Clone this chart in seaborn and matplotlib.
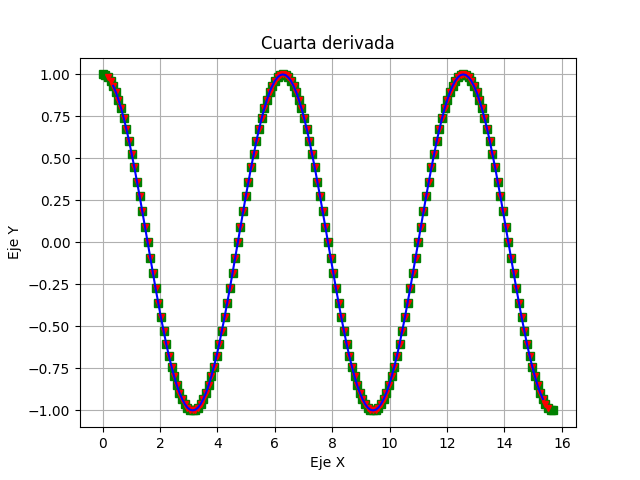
import matplotlib
matplotlib.use("Agg")
import matplotlib.pyplot as plt
import seaborn as sns

x = [0.0, 0.0924, 0.1848, 0.2772, 0.3696, 0.462, 0.5544, 0.6468, 0.7392, 0.8316,
     0.924, 1.0164, 1.1088, 1.2012, 1.2936, 1.386, 1.4784, 1.5708, 1.6632, 1.7556,
     1.848, 1.9404, 2.0328, 2.1252, 2.2176, 2.31, 2.4024, 2.4948, 2.5872, 2.6796,
     2.772, 2.8644, 2.9568, 3.0492, 3.1416, 3.234, 3.3264, 3.4188, 3.5112, 3.6036,
     3.696, 3.7884, 3.8808, 3.9732, 4.0656, 4.158, 4.2504, 4.3428, 4.4352, 4.5276,
     4.62, 4.7124, 4.8048, 4.8972, 4.9896, 5.082, 5.1744, 5.2668, 5.3592, 5.4516,
     5.544, 5.6364, 5.7288, 5.8212, 5.9136, 6.006, 6.0984, 6.1908, 6.2832, 6.3756,
     6.468, 6.5604, 6.6528, 6.7452, 6.8376, 6.93, 7.0224, 7.1148, 7.2072, 7.2996,
     7.392, 7.4844, 7.5768, 7.6692, 7.7616, 7.854, 7.9464, 8.0388, 8.1312, 8.2236,
     8.316, 8.4084, 8.5008, 8.5932, 8.6856, 8.778, 8.8704, 8.9628, 9.0552, 9.1476,
     9.24, 9.3324, 9.4248, 9.5172, 9.6096, 9.702, 9.7944, 9.8868, 9.9792, 10.0716,
     10.164, 10.2564, 10.3488, 10.4412, 10.5336, 10.626, 10.7184, 10.8108, 10.9032, 10.9956,
     11.088, 11.1804, 11.2728, 11.3652, 11.4576, 11.55, 11.6424, 11.7348, 11.8272, 11.9196,
     12.012, 12.1044, 12.1968, 12.2892, 12.3816, 12.474, 12.5664, 12.6588, 12.7512, 12.8436,
     12.936, 13.0284, 13.1208, 13.2132, 13.3056, 13.398, 13.4904, 13.5828, 13.6752, 13.7676,
     13.86, 13.9524, 14.0448, 14.1372, 14.2296, 14.322, 14.4144, 14.5068, 14.5992, 14.6916,
     14.784, 14.8764, 14.9688, 15.0612, 15.1536, 15.246, 15.3384, 15.4308, 15.5232, 15.6156,
     15.708]

y = [1.000, 0.996, 0.983, 0.962, 0.932, 0.895, 0.850, 0.798, 0.739, 0.674,
     0.603, 0.526, 0.446, 0.361, 0.274, 0.184, 0.092, 0.000, -0.092, -0.184,
     -0.274, -0.361, -0.446, -0.526, -0.603, -0.674, -0.739, -0.798, -0.850, -0.895,
     -0.932, -0.962, -0.983, -0.996,
     -1.000, -0.996, -0.983, -0.962, -0.932, -0.895, -0.850, -0.798, -0.739, -0.674,
     -0.603, -0.526, -0.446, -0.361, -0.274, -0.184, -0.092, 0.000, 0.092, 0.184,
     0.274, 0.361, 0.446, 0.526, 0.603, 0.674, 0.739, 0.798, 0.850, 0.895,
     0.932, 0.962, 0.983, 0.996,
     1.000, 0.996, 0.983, 0.962, 0.932, 0.895, 0.850, 0.798, 0.739, 0.674,
     0.603, 0.526, 0.446, 0.361, 0.274, 0.184, 0.092, 0.000, -0.092, -0.184,
     -0.274, -0.361, -0.446, -0.526, -0.603, -0.674, -0.739, -0.798, -0.850, -0.895,
     -0.932, -0.962, -0.983, -0.996,
     -1.000, -0.996, -0.983, -0.962, -0.932, -0.895, -0.850, -0.798, -0.739, -0.674,
     -0.603, -0.526, -0.446, -0.361, -0.274, -0.184, -0.092, 0.000, 0.092, 0.184,
     0.274, 0.361, 0.446, 0.526, 0.603, 0.674, 0.739, 0.798, 0.850, 0.895,
     0.932, 0.962, 0.983, 0.996,
     1.000, 0.996, 0.983, 0.962, 0.932, 0.895, 0.850, 0.798, 0.739, 0.674,
     0.603, 0.526, 0.446, 0.361, 0.274, 0.184, 0.092, 0.000, -0.092, -0.184,
     -0.274, -0.361, -0.446, -0.526, -0.603, -0.674, -0.739, -0.798, -0.850, -0.895,
     -0.932, -0.962, -0.983, -0.996,
     -1.000]

# numerical series cover a trimmed range of the same samples
x_red, y_red = x[2:-2], y[2:-2]
x_blue, y_blue = x[4:-4], y[4:-4]

fig, ax = plt.subplots(figsize=(6.4, 4.8), dpi=100)

sns.lineplot(x=x, y=y, ax=ax, linestyle="", marker="s", color="g",
             markersize=6, markeredgecolor="g", markeredgewidth=1,
             sort=False, estimator=None)
sns.lineplot(x=x_red, y=y_red, ax=ax, linestyle="", marker="v", color="r",
             markersize=4, markeredgecolor="r", markeredgewidth=1,
             sort=False, estimator=None)
sns.lineplot(x=x_blue, y=y_blue, ax=ax, color="b", linewidth=1.5,
             sort=False, estimator=None)

ax.grid(True)
ax.set_title("Cuarta derivada")
ax.set_xlabel("Eje X")
ax.set_ylabel("Eje Y")

fig.savefig("out.png", dpi=100)
